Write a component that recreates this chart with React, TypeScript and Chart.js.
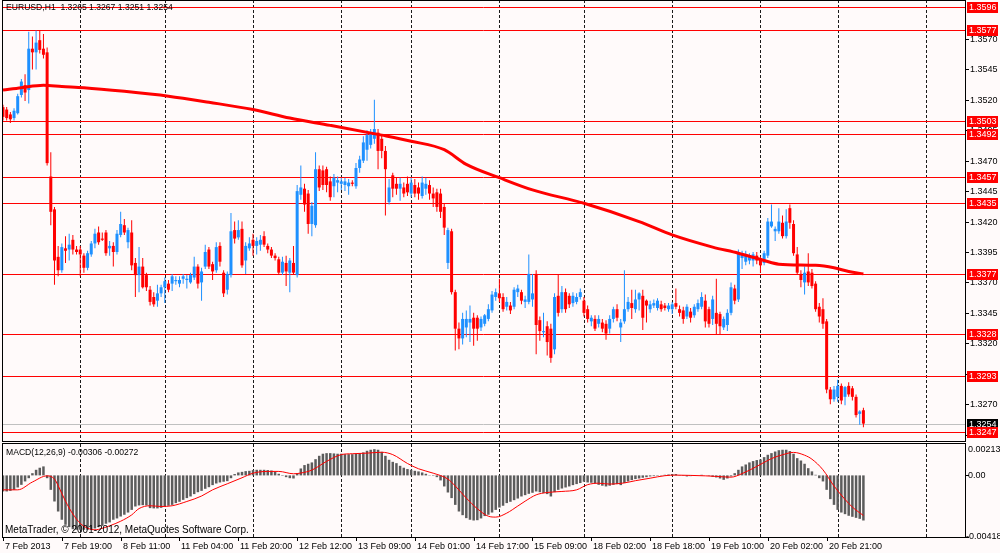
import { useEffect, useRef } from "react";
import { Chart, registerables } from "chart.js";

Chart.register(...registerables);

// EURUSD H1, one entry per bar (bar 0 = 7 Feb 2013 03:00)
const opens = [
  1.3514, 1.3512, 1.3508, 1.3505, 1.3509, 1.3524, 1.3532, 1.3528, 1.3562, 1.3559,
  1.3569, 1.3562, 1.3559, 1.3457, 1.343, 1.3391, 1.338, 1.3398, 1.3397, 1.3405,
  1.3397, 1.3397, 1.3392, 1.3382, 1.3393, 1.3402, 1.3411, 1.3406, 1.3411, 1.3398,
  1.34, 1.3395, 1.3409, 1.3417, 1.3403, 1.3411, 1.3386, 1.3376, 1.3383, 1.3376,
  1.3364, 1.3358, 1.3355, 1.3361, 1.3366, 1.3369, 1.3369, 1.3371, 1.3369, 1.3373,
  1.3372, 1.337, 1.3374, 1.3383, 1.337, 1.3383, 1.3397, 1.3385, 1.338, 1.34,
  1.3378, 1.3364, 1.3376, 1.3413, 1.3407, 1.3414, 1.3388, 1.3398, 1.3405, 1.34,
  1.3401, 1.3408, 1.34, 1.3397, 1.3392, 1.3389, 1.3378, 1.3386, 1.3378, 1.3386,
  1.3376, 1.3442, 1.3447, 1.3443, 1.3418, 1.3417, 1.3463, 1.3462, 1.3463, 1.3453,
  1.3449, 1.3452, 1.3451, 1.345, 1.3449, 1.3452, 1.3449, 1.3464, 1.347, 1.3479,
  1.3483, 1.3488, 1.3493, 1.3488, 1.3478, 1.3436, 1.3458, 1.3451, 1.3447, 1.3448,
  1.3451, 1.3443, 1.345, 1.3448, 1.3441, 1.3447, 1.345, 1.3443, 1.3444, 1.3443,
  1.3432, 1.3386, 1.3412, 1.3362, 1.3332, 1.3324, 1.3333, 1.3337, 1.3341, 1.3341,
  1.3333, 1.3336, 1.334, 1.3347, 1.3358, 1.3361, 1.3358, 1.335, 1.3351, 1.335,
  1.3362, 1.3362, 1.3354, 1.3354, 1.3356, 1.3377, 1.3339, 1.3329, 1.3334, 1.3332,
  1.3315, 1.3359, 1.3348, 1.3362, 1.3359, 1.3353, 1.3354, 1.3358, 1.3355, 1.3348,
  1.3338, 1.334, 1.3336, 1.3337, 1.3336, 1.3332, 1.334, 1.3348, 1.3333, 1.3338,
  1.3348, 1.3353, 1.3348, 1.3356, 1.3359, 1.3355, 1.3348, 1.3351, 1.3349, 1.3352,
  1.3351, 1.3348, 1.3348, 1.3353, 1.3348, 1.3347, 1.3342, 1.3346, 1.3343, 1.3348,
  1.335, 1.3355, 1.3348, 1.334, 1.3345, 1.3344, 1.3333, 1.3335, 1.3345, 1.3365,
  1.3356, 1.339, 1.3387, 1.3388, 1.3388, 1.3392, 1.3389, 1.3386, 1.3392, 1.3416,
  1.3412, 1.3412, 1.3419, 1.3408, 1.3431, 1.3418, 1.3393, 1.3377, 1.337, 1.3379,
  1.3378, 1.3369, 1.335, 1.3348, 1.3338, 1.3282, 1.3274, 1.3276, 1.3285, 1.3276,
  1.3285, 1.3283, 1.3276, 1.3262, 1.3265,
];
const highs = [
  1.3516, 1.3514, 1.351, 1.3513, 1.3525, 1.3537, 1.3541, 1.3576, 1.3572, 1.3577,
  1.3577, 1.3574, 1.3563, 1.3477, 1.3432, 1.34, 1.3402, 1.3408, 1.341, 1.3409,
  1.34, 1.34, 1.3394, 1.3396, 1.3404, 1.3414, 1.3416, 1.3411, 1.3413, 1.3404,
  1.3403, 1.3413, 1.3428, 1.3422, 1.3415, 1.3421, 1.339, 1.3399, 1.339, 1.3378,
  1.3367, 1.3362, 1.3368, 1.3368, 1.3374, 1.3372, 1.3377, 1.3375, 1.3375, 1.3377,
  1.3376, 1.3378, 1.3391, 1.3385, 1.3382, 1.3401, 1.3399, 1.3387, 1.3403, 1.3403,
  1.338, 1.3379, 1.3427, 1.342, 1.3421, 1.342, 1.3403, 1.3407, 1.341, 1.3407,
  1.3409, 1.3412, 1.3402, 1.3399, 1.3394, 1.3391, 1.3391, 1.3392, 1.339, 1.34,
  1.345, 1.3466, 1.3451, 1.3446, 1.3436, 1.3477, 1.3466, 1.3466, 1.3465, 1.3457,
  1.3459, 1.3457, 1.3456, 1.3456, 1.3455, 1.3454, 1.3468, 1.3474, 1.349, 1.3495,
  1.3496, 1.352, 1.3496, 1.3492, 1.3482, 1.3455, 1.346, 1.3456, 1.3456, 1.3452,
  1.3457, 1.3456, 1.3455, 1.3452, 1.3457, 1.3456, 1.3454, 1.3448, 1.3447, 1.3447,
  1.3435, 1.3415, 1.3414, 1.3364, 1.3337, 1.3345, 1.3347, 1.3351, 1.3345, 1.3343,
  1.3342, 1.3344, 1.3352, 1.3363, 1.3365, 1.3373, 1.3361, 1.3358, 1.3354, 1.3366,
  1.3368, 1.3364, 1.3359, 1.3393, 1.3377, 1.338, 1.3342, 1.3345, 1.3338, 1.3336,
  1.3361, 1.3376, 1.3367, 1.3365, 1.3361, 1.3362, 1.3361, 1.3365, 1.3358, 1.3351,
  1.3343, 1.3343, 1.3343, 1.334, 1.3339, 1.3343, 1.335, 1.3352, 1.334, 1.338,
  1.3358, 1.3364, 1.3364, 1.3362, 1.3364, 1.3356, 1.3355, 1.3356, 1.3357, 1.3355,
  1.3353, 1.3353, 1.3354, 1.3365, 1.3351, 1.335, 1.3352, 1.3349, 1.3352, 1.3356,
  1.3362, 1.336, 1.335, 1.3359, 1.3373, 1.3346, 1.3342, 1.3348, 1.337, 1.3368,
  1.3397, 1.3396, 1.3396, 1.3394, 1.3395, 1.3395, 1.3391, 1.3396, 1.3423, 1.3434,
  1.3416, 1.3431, 1.3425, 1.343, 1.3434, 1.3421, 1.3399, 1.338, 1.3383, 1.3394,
  1.3381, 1.3371, 1.3353, 1.3357, 1.334, 1.3284, 1.3285, 1.329, 1.3287, 1.3285,
  1.3288, 1.3285, 1.3278, 1.3265, 1.3267,
];
const lows = [
  1.3503, 1.3503, 1.3501, 1.3503, 1.3508, 1.3522, 1.3519, 1.3517, 1.3545, 1.3545,
  1.3558, 1.3554, 1.3466, 1.3417, 1.3368, 1.3375, 1.3378, 1.3386, 1.3388, 1.3393,
  1.3393, 1.3375, 1.3378, 1.338, 1.3391, 1.3398, 1.3401, 1.3404, 1.3392, 1.3392,
  1.3383, 1.3393, 1.3407, 1.3409, 1.3398, 1.338, 1.3358, 1.3362, 1.3365, 1.3363,
  1.3351, 1.335, 1.335, 1.3358, 1.3353, 1.3362, 1.3363, 1.3368, 1.3366, 1.3369,
  1.3365, 1.3369, 1.3372, 1.3365, 1.3355, 1.3381, 1.3381, 1.3372, 1.3378, 1.3383,
  1.3358, 1.336, 1.3374, 1.3402, 1.3405, 1.3382, 1.3377, 1.3396, 1.3392, 1.3393,
  1.3396, 1.3399, 1.3394, 1.339, 1.3388, 1.3376, 1.3376, 1.3367, 1.3362, 1.3376,
  1.3374, 1.3438, 1.3428, 1.341, 1.3408, 1.3415, 1.3445, 1.3446, 1.3444, 1.3437,
  1.344, 1.3444, 1.3446, 1.3445, 1.3442, 1.3449, 1.3447, 1.346, 1.3468, 1.347,
  1.348, 1.3484, 1.3463, 1.3472, 1.3425, 1.3434, 1.344, 1.3442, 1.3437, 1.344,
  1.3441, 1.344, 1.344, 1.3438, 1.3439, 1.3442, 1.3438, 1.3432, 1.3428, 1.3423,
  1.3409, 1.3381, 1.336, 1.3314, 1.3315, 1.3319, 1.3325, 1.3321, 1.3318, 1.3322,
  1.333, 1.3334, 1.3338, 1.3345, 1.3355, 1.3354, 1.3346, 1.3347, 1.3344, 1.3348,
  1.3358, 1.3352, 1.3349, 1.3352, 1.335, 1.3311, 1.3322, 1.3325, 1.331, 1.3304,
  1.3311, 1.3342, 1.3345, 1.3345, 1.3349, 1.335, 1.3352, 1.3356, 1.3342, 1.3337,
  1.3334, 1.333, 1.3333, 1.3329, 1.3323, 1.3328, 1.3337, 1.3338, 1.3321, 1.3336,
  1.3346, 1.334, 1.3345, 1.3347, 1.3331, 1.3337, 1.3345, 1.3349, 1.3347, 1.3346,
  1.3347, 1.3346, 1.3344, 1.3348, 1.3342, 1.3336, 1.334, 1.3337, 1.3341, 1.3346,
  1.3348, 1.3333, 1.3333, 1.3335, 1.3327, 1.3327, 1.3331, 1.333, 1.3343, 1.3352,
  1.3354, 1.3381, 1.3384, 1.3385, 1.3383, 1.3385, 1.3378, 1.3384, 1.339, 1.3415,
  1.3404, 1.341, 1.3406, 1.3406, 1.3414, 1.3392, 1.3376, 1.3366, 1.336, 1.3367,
  1.3365, 1.3346, 1.3337, 1.3332, 1.3279, 1.327, 1.3272, 1.3272, 1.327, 1.3269,
  1.3276, 1.3273, 1.3259, 1.3253, 1.3251,
];
const closes = [
  1.3506, 1.3505, 1.3504, 1.3511, 1.3523, 1.3535, 1.3526, 1.3562, 1.3559, 1.3567,
  1.3561, 1.3557, 1.3468, 1.3428, 1.3388, 1.338, 1.3399, 1.3396, 1.3401, 1.3397,
  1.3395, 1.3393, 1.3382, 1.3394, 1.3402, 1.341, 1.3403, 1.3405, 1.3394, 1.34,
  1.3395, 1.341, 1.3418, 1.3411, 1.3413, 1.3384, 1.3376, 1.3383, 1.3366, 1.3366,
  1.3354, 1.3352, 1.3361, 1.3366, 1.3371, 1.3364, 1.3375, 1.3372, 1.3372, 1.3375,
  1.3373, 1.3376, 1.3383, 1.3369, 1.3379, 1.3395, 1.3383, 1.3379, 1.3399, 1.3387,
  1.3361, 1.3377, 1.3412, 1.3406, 1.3413, 1.3384, 1.34, 1.3402, 1.34, 1.3404,
  1.3405, 1.3401, 1.3397, 1.3392, 1.339, 1.3378, 1.3387, 1.3379, 1.3388, 1.3378,
  1.3445, 1.3448, 1.3434, 1.3418, 1.3433, 1.3463, 1.3448, 1.345, 1.345, 1.344,
  1.3456, 1.3454, 1.3453, 1.3453, 1.3452, 1.3451, 1.3464, 1.3471, 1.3485, 1.3491,
  1.3493, 1.3496, 1.3478, 1.3478, 1.3463, 1.3448, 1.3447, 1.3447, 1.3451, 1.3443,
  1.3444, 1.3452, 1.3443, 1.3443, 1.3452, 1.3451, 1.3443, 1.3439, 1.3432, 1.3428,
  1.3415, 1.3413, 1.3362, 1.3332, 1.3324, 1.334, 1.334, 1.334, 1.3332, 1.3332,
  1.334, 1.3343, 1.3348, 1.336, 1.3362, 1.3357, 1.3348, 1.3354, 1.3347, 1.3364,
  1.3365, 1.3355, 1.3356, 1.3377, 1.3361, 1.3335, 1.333, 1.333, 1.3321, 1.3308,
  1.3358, 1.3345, 1.3362, 1.3348, 1.3352, 1.3359, 1.3358, 1.3362, 1.3345, 1.334,
  1.3341, 1.3332, 1.334, 1.3332, 1.3328, 1.334, 1.3348, 1.3341, 1.3337, 1.3348,
  1.3354, 1.3349, 1.3356, 1.3361, 1.3341, 1.3351, 1.3352, 1.3353, 1.3355, 1.3348,
  1.3349, 1.3351, 1.3352, 1.335, 1.3345, 1.334, 1.335, 1.3341, 1.335, 1.3353,
  1.3358, 1.3338, 1.3336, 1.3356, 1.3336, 1.3334, 1.334, 1.3345, 1.3366, 1.3355,
  1.3394, 1.3393, 1.3392, 1.3391, 1.3393, 1.3388, 1.3384, 1.3394, 1.342, 1.342,
  1.3414, 1.342, 1.3408, 1.342, 1.3419, 1.3394, 1.3378, 1.3372, 1.3378, 1.337,
  1.3367, 1.3348, 1.3342, 1.3336, 1.3282, 1.3274, 1.3282, 1.3285, 1.3273, 1.3284,
  1.3278, 1.3276, 1.3261, 1.3264, 1.3254,
];

// moving average (thick red line), read at these bars
const maBars = [0, 5, 11, 16, 22, 33, 45, 56, 68, 78, 89, 103, 111, 120, 126, 135, 144, 158, 173, 182, 193, 200, 207, 211, 221, 226, 230, 234];
const maValues = [
  1.3528, 1.353, 1.3532, 1.3531, 1.353, 1.3527, 1.3523, 1.3518, 1.3512, 1.3505,
  1.3499, 1.3491, 1.3486, 1.3479, 1.3467, 1.3456, 1.3446, 1.3435, 1.342, 1.3409,
  1.3399, 1.3394, 1.3388, 1.3385, 1.3384, 1.3382, 1.3379, 1.3377,
];

// MACD main (histogram), in units of 0.00001
const macdMain = [
  -109, -109, -105, -98, -82, -64, -41, -19, 15, 38,
  52, 61, -19, -98, -177, -245, -301, -335, -351, -365,
  -369, -369, -369, -369, -369, -360, -351, -342, -328, -319,
  -301, -292, -279, -267, -252, -234, -211, -204, -202, -204,
  -222, -224, -224, -220, -211, -206, -200, -188, -179, -166,
  -154, -143, -127, -114, -105, -91, -80, -66, -55, -48,
  -43, -39, -19, 9, 20, 24, 29, 31, 36, 38,
  38, 38, 36, 33, 24, 11, -3, -12, -19, -21,
  15, 47, 70, 79, 88, 110, 133, 147, 151, 151,
  149, 147, 147, 144, 144, 144, 147, 151, 156, 167,
  174, 178, 174, 160, 133, 106, 92, 83, 65, 52,
  43, 38, 31, 27, 20, 11, 2, -3, -12, -34,
  -75, -116, -154, -200, -245, -270, -290, -301, -306, -304,
  -292, -276, -267, -252, -234, -218, -206, -188, -179, -168,
  -157, -143, -134, -125, -118, -109, -114, -120, -127, -143,
  -114, -98, -89, -82, -75, -66, -59, -52, -43, -48,
  -50, -55, -64, -70, -75, -70, -64, -59, -66, -52,
  -41, -32, -25, -21, -16, -12, -7, -5, -3, 2,
  4, 6, 9, 9, 2, -3, -7, -5, -3, 0,
  4, 0, -3, -10, -14, -21, -30, -21, -7, 15,
  38, 61, 74, 88, 97, 104, 108, 124, 140, 151,
  162, 171, 174, 174, 165, 147, 117, 101, 79, 49,
  27, 4, -19, -41, -98, -161, -200, -234, -252, -263,
  -274, -281, -288, -295, -306,
];
// MACD signal line, in units of 0.00001, read at these bars
const signalBars = [
  0, 4, 8, 12, 14, 15, 17, 19, 21, 23, 25, 26, 29, 32, 35, 37, 40, 43, 46, 50,
  54, 57, 61, 65, 68, 72, 75, 79, 81, 84, 88, 92, 95, 99, 103, 106, 110, 113, 117, 121,
  123, 126, 129, 132, 134, 137, 140, 142, 145, 148, 152, 156, 159, 162, 165, 169, 172, 176, 180, 183,
  187, 191, 194, 198, 201, 205, 209, 212, 215, 218, 220, 223, 226, 229, 231, 234,
];
const signalValues = [
  -98, -98, -45, -3, -25, -70, -175, -262, -325, -358, -369, -366, -342, -311, -268, -225, -206, -211, -206, -177,
  -140, -98, -57, -16, 15, 27, 27, 11, 16, 36, 95, 141, 147, 151, 157, 141, 81, 45, 15, -25,
  -72, -154, -226, -277, -283, -256, -208, -175, -132, -116, -109, -98, -63, -53, -59, -51, -36, -19, -2, 2,
  0, -3, -7, -12, 12, 61, 114, 140, 156, 137, 110, 38, -72, -163, -215, -272,
];

const levels = [1.3596, 1.3577, 1.3503, 1.3492, 1.3457, 1.3435, 1.3377, 1.3328, 1.3293, 1.3247];
const bidPrice = 1.3254;
const priceTicks = [1.357, 1.3545, 1.352, 1.3495, 1.347, 1.3445, 1.342, 1.3395, 1.337, 1.3345, 1.332, 1.3295, 1.327, 1.3245];
const dayStarts = [21, 44, 68, 92, 111, 135, 158, 182, 206, 227, 251];
const timeTickBars = [0, 16, 32, 48, 64, 80, 96, 112, 128, 144, 160, 176, 192, 208, 224];
const timeTickLabels = [
  "7 Feb 2013", "7 Feb 19:00", "8 Feb 11:00", "11 Feb 04:00", "11 Feb 20:00",
  "12 Feb 12:00", "13 Feb 09:00", "14 Feb 01:00", "14 Feb 17:00", "15 Feb 09:00",
  "18 Feb 02:00", "18 Feb 18:00", "19 Feb 10:00", "20 Feb 02:00", "20 Feb 21:00",
];

const SNOW = "#FFFAFA";
const UP = "#1E90FF";
const DOWN = "#FF0000";
const FONT = "9px 'Liberation Sans', Arial, sans-serif";
const HEAD_FONT = "8.6px 'Liberation Sans', Arial, sans-serif";
const NOTE_FONT = "10px 'Liberation Sans', Arial, sans-serif";
const X_MIN = -0.272;
const X_MAX = 261.63;

const candleColors = opens.map((o, i) => (closes[i] >= o ? UP : DOWN));

function dashedDays(chart) {
  const { ctx, chartArea: a, scales } = chart;
  ctx.save();
  ctx.strokeStyle = "#1a1a1a";
  ctx.lineWidth = 1;
  ctx.setLineDash([3, 2]);
  dayStarts.forEach((d) => {
    const px = Math.round(scales.x.getPixelForValue(d)) + 0.5;
    if (px > a.right) return;
    ctx.beginPath();
    ctx.moveTo(px, a.top);
    ctx.lineTo(px, a.bottom);
    ctx.stroke();
  });
  ctx.restore();
}

const mainDecor = {
  id: "mainDecor",
  beforeDraw(chart) {
    const { ctx, width, height } = chart;
    ctx.save();
    ctx.fillStyle = SNOW;
    ctx.fillRect(0, 0, width, height);
    ctx.restore();
  },
  beforeDatasetsDraw(chart) {
    const { ctx, chartArea: a, scales } = chart;
    dashedDays(chart);
    ctx.save();
    ctx.lineWidth = 1;
    const by = Math.round(scales.y.getPixelForValue(bidPrice)) + 0.5;
    ctx.strokeStyle = "#C0C0C0";
    ctx.beginPath();
    ctx.moveTo(a.left, by);
    ctx.lineTo(a.right, by);
    ctx.stroke();
    ctx.strokeStyle = "#FF0000";
    levels.forEach((l) => {
      const ly = Math.round(scales.y.getPixelForValue(l)) + 0.5;
      ctx.beginPath();
      ctx.moveTo(a.left, ly);
      ctx.lineTo(a.right, ly);
      ctx.stroke();
    });
    ctx.restore();
  },
  afterDatasetsDraw(chart) {
    const { ctx, chartArea: a, scales } = chart;
    ctx.save();
    ctx.strokeStyle = "#000";
    ctx.lineWidth = 1;
    ctx.strokeRect(a.left + 0.5, a.top + 0.5, a.right - a.left, a.bottom - a.top - 1);
    ctx.textBaseline = "middle";
    ctx.textAlign = "left";
    ctx.fillStyle = "#000";
    ctx.font = HEAD_FONT;
    ctx.fillText("EURUSD,H1  1.3265 1.3267 1.3251 1.3254", 6, 8);
    ctx.font = FONT;
    priceTicks.forEach((p) => {
      const py = scales.y.getPixelForValue(p);
      ctx.beginPath();
      ctx.moveTo(a.right, Math.round(py) + 0.5);
      ctx.lineTo(a.right + 4, Math.round(py) + 0.5);
      ctx.stroke();
      ctx.fillText(p.toFixed(4), 970, py + 0.5);
    });
    const by = Math.round(scales.y.getPixelForValue(bidPrice));
    ctx.fillStyle = "#000";
    ctx.fillRect(967, by - 5, 31, 11);
    ctx.fillStyle = "#fff";
    ctx.fillText(bidPrice.toFixed(4), 969, by + 0.5);
    levels.forEach((l) => {
      const ly = Math.round(scales.y.getPixelForValue(l));
      ctx.fillStyle = "#FF0000";
      ctx.fillRect(967, ly - 5, 31, 11);
      ctx.fillStyle = "#fff";
      ctx.fillText(l.toFixed(4), 969, ly + 0.5);
    });
    ctx.restore();
  },
};

const macdDecor = {
  id: "macdDecor",
  beforeDraw(chart) {
    const { ctx, width, height } = chart;
    ctx.save();
    ctx.fillStyle = SNOW;
    ctx.fillRect(0, 0, width, height);
    ctx.restore();
  },
  beforeDatasetsDraw(chart) {
    dashedDays(chart);
  },
  afterDatasetsDraw(chart) {
    const { ctx, chartArea: a, scales } = chart;
    ctx.save();
    ctx.strokeStyle = "#000";
    ctx.lineWidth = 1;
    ctx.strokeRect(a.left + 0.5, a.top - 0.5, a.right - a.left, a.bottom - a.top + 1);
    ctx.textBaseline = "middle";
    ctx.textAlign = "left";
    ctx.fillStyle = "#000";
    ctx.font = HEAD_FONT;
    ctx.fillText("MACD(12,26,9) -0.00306 -0.00272", 6, 9.5);
    ctx.font = NOTE_FONT;
    ctx.fillText("MetaTrader, \u00A9 2001-2012, MetaQuotes Software Corp.", 5, 87.5);
    ctx.font = FONT;
    const zy = scales.y.getPixelForValue(0);
    const topY = scales.y.getPixelForValue(213);
    const botY = scales.y.getPixelForValue(-418);
    [zy, botY].forEach((py) => {
      ctx.beginPath();
      ctx.moveTo(a.right, Math.round(py) + 0.5);
      ctx.lineTo(a.right + 4, Math.round(py) + 0.5);
      ctx.stroke();
    });
    ctx.fillText("0.00213", 968, topY + 6);
    ctx.fillText("0.00", 968, zy + 0.5);
    ctx.fillText("-0.00418", 966, botY);
    timeTickBars.forEach((b, k) => {
      const px = Math.round(scales.x.getPixelForValue(b)) + 0.5;
      ctx.beginPath();
      ctx.moveTo(px, a.bottom);
      ctx.lineTo(px, a.bottom + 4);
      ctx.stroke();
      ctx.fillText(timeTickLabels[k], px + 1.5, a.bottom + 9.5);
    });
    ctx.restore();
  },
};

export default function App() {
  const mainRef = useRef<HTMLCanvasElement | null>(null);
  const macdRef = useRef<HTMLCanvasElement | null>(null);

  useEffect(() => {
    document.body.style.margin = "0";
    document.body.style.background = SNOW;

    const main = new Chart(mainRef.current, {
      type: "bar",
      data: {
        datasets: [
          {
            type: "line",
            label: "MA",
            data: maBars.map((b, k) => ({ x: b, y: maValues[k] })),
            borderColor: "#FF0000",
            borderWidth: 3,
            pointRadius: 0,
            cubicInterpolationMode: "monotone",
            order: 0,
          },
          {
            type: "bar",
            label: "body",
            data: opens.map((o, i) => ({ x: i, y: [o, closes[i]] })),
            backgroundColor: candleColors,
            barThickness: 3,
            minBarLength: 1,
            grouped: false,
            inflateAmount: 0,
            order: 1,
          },
          {
            type: "bar",
            label: "wick",
            data: lows.map((l, i) => ({ x: i, y: [l, highs[i]] })),
            backgroundColor: candleColors,
            barThickness: 1,
            grouped: false,
            inflateAmount: 0,
            order: 2,
          },
        ],
      },
      options: {
        responsive: false,
        animation: false,
        events: [],
        layout: { padding: { left: 2, right: 35, top: 0, bottom: 1 } },
        plugins: { legend: { display: false }, tooltip: { enabled: false } },
        scales: {
          x: { type: "linear", display: false, min: X_MIN, max: X_MAX, offset: false },
          y: { type: "linear", display: false, min: 1.32389, max: 1.3602, beginAtZero: false },
        },
      },
      plugins: [mainDecor],
    });

    const macd = new Chart(macdRef.current, {
      type: "bar",
      data: {
        datasets: [
          {
            type: "line",
            label: "Signal",
            data: signalBars.map((b, k) => ({ x: b, y: signalValues[k] })),
            borderColor: "#FF0000",
            borderWidth: 1,
            pointRadius: 0,
            cubicInterpolationMode: "monotone",
            order: 0,
          },
          {
            type: "bar",
            label: "MACD",
            data: macdMain.map((v, i) => ({ x: i, y: v })),
            backgroundColor: "#5c5c5c",
            barThickness: 2.5,
            grouped: false,
            inflateAmount: 0,
            order: 1,
          },
        ],
      },
      options: {
        responsive: false,
        animation: false,
        events: [],
        layout: { padding: { left: 2, right: 35, top: 1, bottom: 16 } },
        plugins: { legend: { display: false }, tooltip: { enabled: false } },
        scales: {
          x: { type: "linear", display: false, min: X_MIN, max: X_MAX, offset: false },
          y: { type: "linear", display: false, min: -418, max: 213, beginAtZero: false },
        },
      },
      plugins: [macdDecor],
    });

    return () => {
      main.destroy();
      macd.destroy();
    };
  }, []);

  return (
    <div style={{ position: "absolute", left: 0, top: 0, width: 1000, height: 553, background: SNOW }}>
      <canvas ref={mainRef} width={1000} height={443} style={{ position: "absolute", left: 0, top: 0 }} />
      <canvas ref={macdRef} width={1000} height={110} style={{ position: "absolute", left: 0, top: 443 }} />
    </div>
  );
}
